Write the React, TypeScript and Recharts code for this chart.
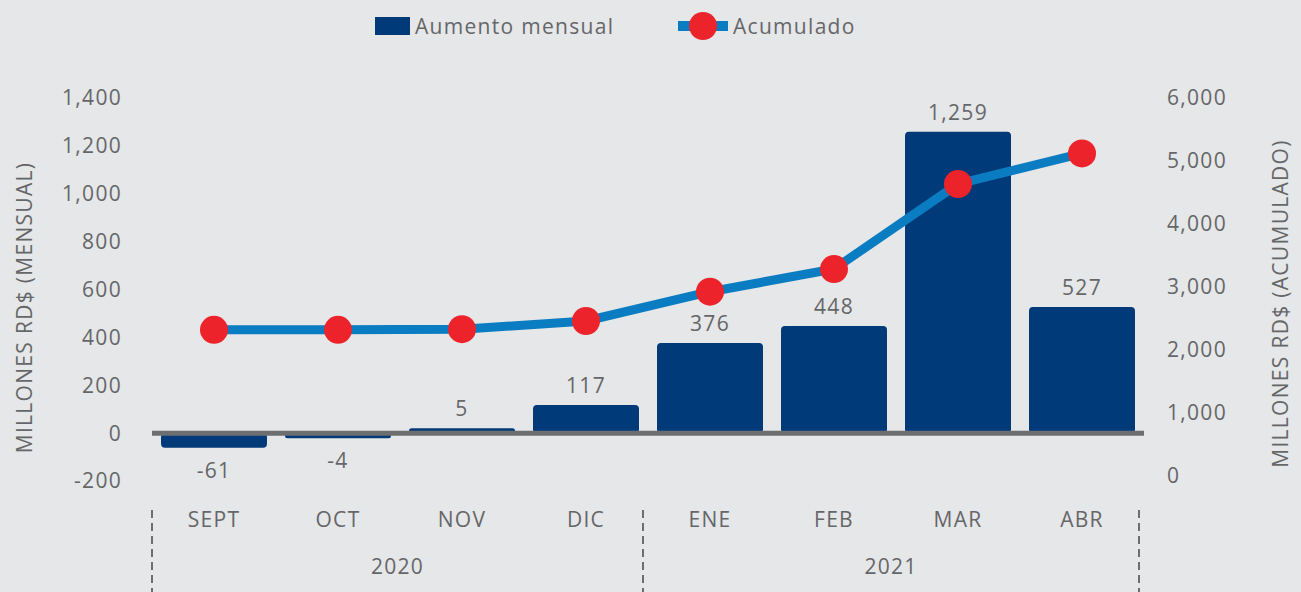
import React from 'react';
import {
  ComposedChart, Bar, Line, XAxis, YAxis, ReferenceLine, Legend, LabelList,
} from 'recharts';

// chart values
const months = ['SEPT', 'OCT', 'NOV', 'DIC', 'ENE', 'FEB', 'MAR', 'ABR'];
const monthlyIncrease = [-61, -4, 5, 117, 376, 448, 1259, 527];
const cumulative = [2320, 2320, 2330, 2460, 2925, 3285, 4635, 5120];
const leftTicks = [-200, 0, 200, 400, 600, 800, 1000, 1200, 1400];
const rightTicks = [0, 1000, 2000, 3000, 4000, 5000, 6000];
const yearGroups = [
  { label: '2020', start: 0, end: 3 },
  { label: '2021', start: 4, end: 7 },
];

const data = months.map((m, i) => ({
  month: m,
  mensual: monthlyIncrease[i],
  acumulado: cumulative[i],
}));

const W = 1301;
const H = 592;
const LEFT_W = 152;
const RIGHT_W = 157;
const PLOT_W = W - LEFT_W - RIGHT_W;
const BAND = PLOT_W / months.length;

const BG = '#e6e7e8';
const NAVY = '#003a78';
const BLUE = '#0a7dc2';
const RED = '#ec232b';
const TEXT = '#656668';
const AXIS_GRAY = '#6d6e70';
const FONT = '"Open Sans", sans-serif';
const SPACING = '1.3px';

const fmt = (v: number) => v.toLocaleString('en-US');

const MonthTick = (props: any) => {
  const { x, y, payload, index } = props;
  const group = yearGroups.find((g) => g.end === index);
  let extra = null;
  if (group) {
    const right = x + BAND / 2 - 5;
    const left = x - (group.end - group.start) * BAND - BAND / 2 - (group.start === 0 ? 0 : 5);
    extra = (
      <g>
        {group.start === 0 && (
          <line x1={left} x2={left} y1={y + 23} y2={H} stroke={AXIS_GRAY} strokeWidth={2} strokeDasharray="8 5" />
        )}
        <line x1={right} x2={right} y1={y + 23} y2={H} stroke={AXIS_GRAY} strokeWidth={2} strokeDasharray="8 5" />
        <text x={(left + right) / 2} y={y + 79} textAnchor="middle" dominantBaseline="central" fill={TEXT} fontSize={21}>
          {group.label}
        </text>
      </g>
    );
  }
  return (
    <g>
      <text x={x} y={y + 32} textAnchor="middle" dominantBaseline="central" fill={TEXT} fontSize={21}>
        {payload.value}
      </text>
      {extra}
    </g>
  );
};

const BarValueLabel = (props: any) => {
  const { x, y, width, height, value } = props;
  const top = Math.min(y, y + height);
  const bottom = Math.max(y, y + height);
  const cy = value < 0 ? bottom + 22 : top - 20;
  return (
    <text x={x + width / 2} y={cy} textAnchor="middle" dominantBaseline="central" fill={TEXT} fontSize={21}>
      {fmt(value)}
    </text>
  );
};

const renderLegend = () => (
  <div style={{ display: 'flex', alignItems: 'center', fontSize: 21, color: TEXT, fontFamily: FONT, letterSpacing: SPACING, whiteSpace: 'nowrap' }}>
    <span style={{ display: 'inline-block', width: 35, height: 18, background: NAVY }} />
    <span style={{ display: 'inline-block', width: 263, marginLeft: 5 }}>Aumento mensual</span>
    <svg width={50} height={28}>
      <line x1={0} x2={50} y1={14} y2={14} stroke={BLUE} strokeWidth={10} />
      <circle cx={25} cy={14} r={14} fill={RED} />
    </svg>
    <span style={{ marginLeft: 5 }}>Acumulado</span>
  </div>
);

const AxisTitle = (props: any) => {
  const { viewBox, value, dx, dy } = props;
  const cx = viewBox.x + dx;
  const cy = viewBox.y + viewBox.height / 2 + dy;
  return (
    <text x={cx} y={cy} transform={`rotate(-90, ${cx}, ${cy})`} textAnchor="middle" dominantBaseline="central" fill={TEXT} fontSize={21}>
      {value}
    </text>
  );
};

export default function App() {
  return (
    <div style={{ position: 'absolute', left: 0, top: 0, width: W, height: H, background: BG, fontFamily: FONT, letterSpacing: SPACING }}>
      <ComposedChart width={W} height={H} data={data} margin={{ top: 98, right: 0, bottom: 0, left: 0 }}>
        <XAxis
          dataKey="month"
          height={111}
          axisLine={false}
          tickLine={false}
          tickMargin={0}
          interval={0}
          tick={(p: any) => <MonthTick {...p} />}
        />
        <YAxis
          yAxisId="left"
          orientation="left"
          width={LEFT_W}
          domain={[-200, 1400]}
          ticks={leftTicks}
          tickFormatter={fmt}
          axisLine={false}
          tickLine={false}
          tickMargin={24}
          tick={{ fill: TEXT, fontSize: 21 }}
          label={<AxisTitle value="MILLONES RD$ (MENSUAL)" dx={24} dy={18} />}
        />
        <YAxis
          yAxisId="right"
          orientation="right"
          width={RIGHT_W}
          domain={[-80, 6000]}
          ticks={rightTicks}
          tickFormatter={fmt}
          axisLine={false}
          tickLine={false}
          tickMargin={17}
          tick={{ fill: TEXT, fontSize: 21, textAnchor: 'start' }}
          label={<AxisTitle value="MILLONES RD$ (ACUMULADO)" dx={136} dy={14} />}
        />
        <Legend
          layout="horizontal"
          verticalAlign="middle"
          align="center"
          content={renderLegend}
          wrapperStyle={{ top: 12, left: 375, width: 'auto' }}
        />
        <Bar yAxisId="left" dataKey="mensual" fill={NAVY} barSize={106} radius={4} minPointSize={5} isAnimationActive={false}>
          <LabelList dataKey="mensual" content={<BarValueLabel />} />
        </Bar>
        <ReferenceLine yAxisId="left" y={0} stroke={AXIS_GRAY} strokeWidth={5} />
        <Line
          yAxisId="right"
          dataKey="acumulado"
          type="linear"
          stroke={BLUE}
          strokeWidth={9}
          dot={{ r: 14, fill: RED, stroke: 'none' }}
          activeDot={false}
          isAnimationActive={false}
        />
      </ComposedChart>
    </div>
  );
}
